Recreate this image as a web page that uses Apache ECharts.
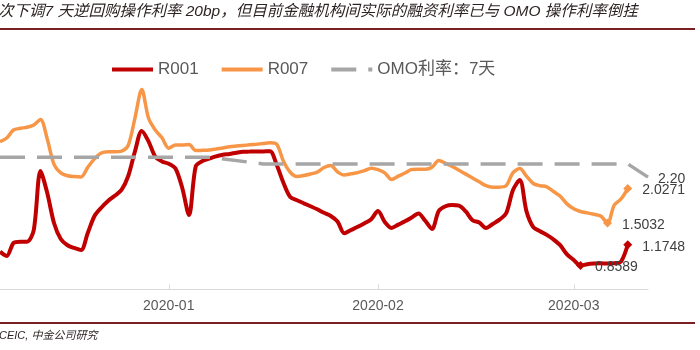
<!DOCTYPE html>
<html>
<head>
<meta charset="utf-8">
<script src="https://cdn.jsdelivr.net/npm/echarts@6/dist/echarts.min.js"></script>
<style>
  html, body { margin: 0; padding: 0; background: #fff; }
  #chart { width: 700px; height: 350px; }
</style>
</head>
<body>
<div id="chart"></div>
<script>
  // 横轴：2019-12-07 起逐日，共 97 天
  var startDate = '2019-12-07';
  var dayCount = 97;

  var r001 = [1.07, 1.005, 1.202, 1.221, 1.221, 1.398, 2.292, 1.959, 1.505, 1.262,
    1.168, 1.126, 1.095, 1.353, 1.611, 1.736, 1.838, 1.917, 2.005, 2.217,
    2.591, 2.898, 2.742, 2.511, 2.438, 2.402, 2.330, 2.035, 1.626, 2.365,
    2.444, 2.479, 2.514, 2.538, 2.550, 2.570, 2.585, 2.586, 2.588, 2.589,
    2.591, 2.383, 2.111, 1.898, 1.850, 1.803, 1.758, 1.712, 1.659, 1.611,
    1.527, 1.348, 1.398, 1.447, 1.502, 1.562, 1.686, 1.520, 1.429, 1.480,
    1.530, 1.588, 1.648, 1.538, 1.414, 1.686, 1.758, 1.776, 1.767, 1.679,
    1.547, 1.512, 1.429, 1.489, 1.555, 1.656, 2.005, 2.156, 1.680, 1.441,
    1.380, 1.324, 1.255, 1.168, 1.029, 0.944, 0.8589, 0.88, 0.89, 0.895,
    0.89, 0.895, 0.92, 1.1748];

  var r007 = [2.736, 2.792, 2.914, 2.939, 2.955, 2.989, 3.073, 2.777, 2.394, 2.265,
    2.220, 2.208, 2.202, 2.348, 2.476, 2.565, 2.585, 2.585, 2.595, 2.683,
    3.098, 3.527, 3.095, 2.914, 2.795, 2.638, 2.686, 2.686, 2.694, 2.602,
    2.606, 2.611, 2.626, 2.642, 2.659, 2.670, 2.680, 2.689, 2.698, 2.709,
    2.720, 2.697, 2.439, 2.273, 2.209, 2.224, 2.247, 2.276, 2.345, 2.376,
    2.280, 2.232, 2.250, 2.268, 2.297, 2.335, 2.312, 2.265, 2.164, 2.214,
    2.262, 2.314, 2.318, 2.318, 2.348, 2.452, 2.408, 2.361, 2.303, 2.245,
    2.186, 2.129, 2.070, 2.047, 2.048, 2.071, 2.267, 2.330, 2.215, 2.103,
    2.070, 2.053, 1.982, 1.911, 1.794, 1.720, 1.679, 1.658, 1.636, 1.612,
    1.5032, 1.777, 1.868, 2.0271];

  // OMO 利率：7天（只有调整前后的节点，中间用直线相连）
  var omoDates = ['2019-12-07', '2020-01-07', '2020-01-15', '2020-03-09', '2020-03-12'];
  var omoValues = [2.50, 2.50, 2.40, 2.40, 2.20];

  // 标注的点
  var r001MarkDates = ['2020-03-02', '2020-03-09'];
  var r007MarkDates = ['2020-03-06', '2020-03-09'];

  var dates = [];
  var d = new Date(startDate + 'T00:00:00Z');
  for (var i = 0; i < dayCount; i++) {
    dates.push(d.toISOString().slice(0, 10));
    d.setUTCDate(d.getUTCDate() + 1);
  }

  function withMarks(values, markDates) {
    return values.map(function (v, i) {
      if (markDates.indexOf(dates[i]) >= 0) {
        return { value: v, symbol: 'diamond', symbolSize: 9, label: { show: true } };
      }
      return v;
    });
  }

  var omoData = dates.map(function (dt) {
    var k = omoDates.indexOf(dt);
    return k >= 0 ? omoValues[k] : null;
  });

  var isMonthStart = function (idx, val) { return val.slice(8) === '01'; };

  var labelStyle = {
    position: 'right',
    distance: 10,
    offset: [0, 2],
    color: '#404040',
    fontSize: 14,
    fontFamily: 'Liberation Sans'
  };

  var myChart = echarts.init(document.getElementById('chart'));
  var option = {
    animation: false,
    grid: { left: 0, right: 52, top: 58.3, bottom: 60.7 },
    legend: {
      left: 110,
      top: 61,
      padding: 0,
      itemWidth: 41,
      itemHeight: 14,
      itemGap: 21,
      itemStyle: { opacity: 0 },
      lineStyle: { width: 4 },
      textStyle: { fontSize: 17, color: '#595959', fontFamily: 'Liberation Sans, Noto Sans CJK SC' },
      data: ['R001', 'R007', 'OMO利率：7天']
    },
    xAxis: {
      type: 'category',
      boundaryGap: false,
      data: dates,
      axisLine: { lineStyle: { color: '#d9d9d9', width: 1 } },
      axisTick: { inside: true, length: 5, interval: isMonthStart, lineStyle: { color: '#d9d9d9' } },
      axisLabel: {
        interval: isMonthStart,
        formatter: function (v) { return v.slice(0, 7); },
        color: '#595959',
        fontSize: 14,
        margin: 10,
        fontFamily: 'Liberation Sans'
      },
      splitLine: { show: false }
    },
    yAxis: {
      type: 'value',
      min: 0.5,
      max: 4.0,
      show: false,
      splitLine: { show: false }
    },
    graphic: [
      {
        type: 'text', left: -2, top: 4,
        style: {
          text: '次下调7 天逆回购操作利率 20bp，但目前金融机构间实际的融资利率已与 OMO 操作利率倒挂',
          font: 'italic 15.5px "Liberation Sans", "Noto Sans CJK SC"',
          fill: '#2e2424'
        }
      },
      { type: 'rect', shape: { x: 0, y: 28, width: 695, height: 2 }, style: { fill: '#7a1f22' } },
      { type: 'rect', shape: { x: 0, y: 322, width: 695, height: 2 }, style: { fill: '#7a1f22' } },
      {
        type: 'text', left: -1, top: 330,
        style: {
          text: 'CEIC, 中金公司研究',
          font: 'italic 11px "Liberation Sans", "Noto Sans CJK SC"',
          fill: '#2e2424'
        }
      }
    ],
    series: [
      {
        name: 'R001',
        type: 'line',
        data: withMarks(r001, r001MarkDates),
        smooth: 0.3,
        symbol: 'none',
        showAllSymbol: true,
        lineStyle: { color: '#c00000', width: 4 },
        itemStyle: { color: '#c00000' },
        label: Object.assign({ show: false, formatter: function (p) { return p.value.toFixed(4); } }, labelStyle)
      },
      {
        name: 'R007',
        type: 'line',
        data: withMarks(r007, r007MarkDates),
        smooth: 0.3,
        symbol: 'none',
        showAllSymbol: true,
        lineStyle: { color: '#f79646', width: 3.5 },
        itemStyle: { color: '#f79646' },
        label: Object.assign({ show: false, formatter: function (p) { return p.value.toFixed(4); } }, labelStyle)
      },
      {
        name: 'OMO利率：7天',
        type: 'line',
        data: omoData,
        connectNulls: true,
        symbol: 'none',
        showAllSymbol: true,
        lineStyle: { color: '#a6a6a6', width: 3.5, type: [25, 12] },
        itemStyle: { color: '#a6a6a6' },
        endLabel: {
          show: true,
          formatter: function (p) { return p.value.toFixed(2); },
          color: '#404040',
          fontSize: 14,
          fontFamily: 'Liberation Sans',
          distance: 10,
          offset: [0, 2]
        }
      }
    ]
  };
  myChart.setOption(option);
</script>
</body>
</html>
